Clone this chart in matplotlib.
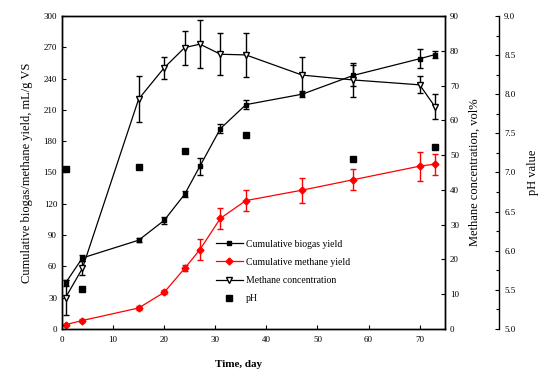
"""Biogas / methane yield, methane concentration and pH over digestion time."""

import matplotlib

matplotlib.use("Agg")
import matplotlib.pyplot as plt
from matplotlib.lines import Line2D
from matplotlib.ticker import MultipleLocator

plt.rcParams["font.family"] = ["Liberation Serif", "DejaVu Serif"]

# cumulative biogas yield, mL/g VS
biogas_day = [0.7, 4, 15, 20, 24, 27, 31, 36, 47, 57, 70, 73]
biogas = [44, 68, 85, 104, 129, 156, 192, 215, 225, 243, 259, 263]
biogas_err = [3, 3, 2, 3, 3, 8, 4, 4, 3, 10, 9, 3]

# cumulative methane yield, mL/g VS
methane_day = [0.7, 4, 15, 20, 24, 27, 31, 36, 47, 57, 70, 73]
methane = [4, 8, 20, 35, 58, 76, 106, 123, 133, 143, 156, 158]
methane_err = [1, 1, 2, 2, 3, 10, 10, 10, 12, 10, 14, 10]

# methane concentration, vol%
conc_day = [0.7, 4, 15, 20, 24, 27, 31, 36, 47, 57, 70, 73]
conc = [9, 17.4, 66.1, 75.1, 80.9, 81.9, 79, 78.8, 73, 71.6, 70.2, 63.9]
conc_err = [5, 2, 6.5, 3.2, 4.9, 7, 6, 6.4, 5.2, 4.9, 2.4, 3.6]

# pH
ph_day = [0.7, 4, 15, 24, 36, 57, 73]
ph = [7.04, 5.51, 7.07, 7.27, 7.48, 7.17, 7.33]


def main() -> None:
    fig = plt.figure(figsize=(5.39, 3.72), dpi=100)
    ax = fig.add_axes([0.115, 0.116, 0.711, 0.841])
    ax2 = ax.twinx()
    ax3 = ax.twinx()
    ax3.spines["right"].set_position(("outward", 39))

    ekw = dict(capsize=2.5, elinewidth=1.0, capthick=1.0, linewidth=0.9)
    ax.errorbar(biogas_day, biogas, yerr=biogas_err, color="black", marker="s",
                markersize=3.5, **ekw)
    ax.errorbar(methane_day, methane, yerr=methane_err, color="red", marker="D",
                markersize=3.5, **ekw)
    ax2.errorbar(conc_day, conc, yerr=conc_err, color="black", marker="v",
                 markersize=4.5, markerfacecolor="white", **ekw)
    ax3.plot(ph_day, ph, linestyle="none", marker="s", markersize=4, color="black")

    ax.set_xlim(0, 75)
    ax.set_ylim(0, 300)
    ax2.set_ylim(0, 90)
    ax3.set_ylim(5.0, 9.0)
    ax.xaxis.set_major_locator(MultipleLocator(10))
    ax.yaxis.set_major_locator(MultipleLocator(30))
    ax2.yaxis.set_major_locator(MultipleLocator(10))
    ax3.yaxis.set_major_locator(MultipleLocator(0.5))
    ax3.yaxis.set_minor_locator(MultipleLocator(0.25))
    ax3.yaxis.set_major_formatter(lambda v, p: f"{v:.1f}")

    for a in (ax, ax2, ax3):
        a.tick_params(direction="in", labelsize=6.5, length=3, width=0.8)
        a.tick_params(which="minor", direction="in", length=2, width=0.8)
        for s in a.spines.values():
            s.set_linewidth(1.0)
    ax.tick_params(axis="x", pad=5)
    ax3.spines["top"].set_visible(False)
    ax3.spines["left"].set_visible(False)
    ax3.spines["bottom"].set_visible(False)

    ax.set_xlabel("Time, day", fontsize=8, fontweight="bold", labelpad=8)
    ax.xaxis.set_label_coords(0.46, -0.1)
    ax.set_ylabel("Cumulative biogas/methane yield, mL/g VS", fontsize=9, labelpad=8)
    ax2.set_ylabel("Methane concentration, vol%", fontsize=9, labelpad=7)
    ax3.set_ylabel("pH value", fontsize=9, labelpad=8)

    handles = [
        Line2D([], [], color="black", marker="s", markersize=3.5, linewidth=0.9,
               label="Cumulative biogas yield"),
        Line2D([], [], color="red", marker="D", markersize=3.5, linewidth=0.9,
               label="Cumulative methane yield"),
        Line2D([], [], color="black", marker="v", markersize=4.5, linewidth=0.9,
               markerfacecolor="white", label="Methane concentration"),
        Line2D([], [], color="black", marker="s", markersize=4, linestyle="none",
               label="pH"),
    ]
    ax.legend(handles=handles, loc="lower left", bbox_to_anchor=(0.385, 0.06),
              frameon=False, fontsize=7, handlelength=2.7, labelspacing=0.95,
              borderpad=0.2, handletextpad=0.35)

    fig.savefig("out.png", dpi=100)
    plt.close(fig)


if __name__ == "__main__":
    main()
